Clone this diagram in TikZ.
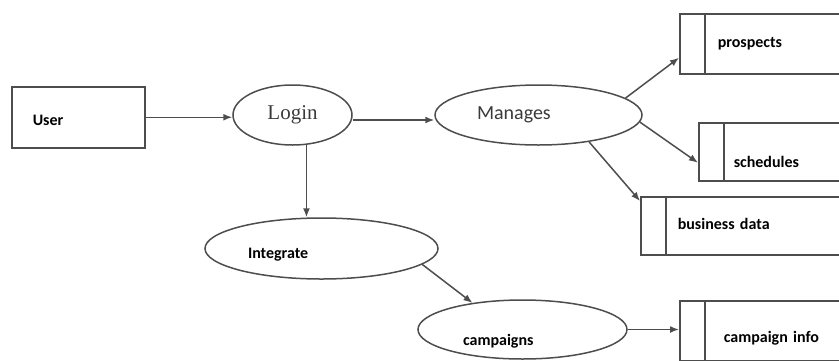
\documentclass[tikz,border=0pt]{standalone}
\usepackage{fontspec}
\setmainfont{Carlito}
\newfontfamily\serifface{Liberation Serif}
\usetikzlibrary{shapes.geometric,arrows.meta}

\definecolor{linegray}{HTML}{4D4D4D}
\definecolor{textgray}{HTML}{3A3A3A}

\tikzset{
    store/.style={draw=linegray, line width=1.5pt, rectangle, anchor=north west, align=left,
        text width=150pt, minimum height=#1, font=\fontsize{16}{18}\selectfont\bfseries,
        text height=11pt, text depth=3pt},
    process/.style={draw=linegray, line width=1.5pt, ellipse, inner sep=0pt},
    flow/.style={draw=linegray, line width=1.5pt, -{Latex[length=9pt,width=7pt]}},
    bold16/.style={font=\fontsize{16}{18}\selectfont\bfseries, align=left}
}

\begin{document}
\begin{tikzpicture}[x=1pt, y=-1pt]
        \useasboundingbox (0,0) rectangle (839,360);
        \clip (0,0) rectangle (839,360);

        \node[store=61pt, text width=91pt, inner xsep=21pt, text height=19pt] (user) at (11,86) {User};

        \node[process, minimum width=119pt, minimum height=60pt, text=textgray,
            font=\serifface\fontsize{21}{24}\selectfont] (login) at (292.5,115) {Login};
        \node[process, minimum width=207pt, minimum height=60pt, text width=123pt, align=left,
            text=textgray, font=\fontsize{20}{22}\selectfont] (manages) at (538.5,115) {Manages};
        \node[process, bold16, minimum width=233pt, minimum height=61pt, text width=147pt,
            text height=23pt, text depth=3pt] (integrate) at (321.5,248.5) {Integrate};
        \node[process, bold16, minimum width=209pt, minimum height=59pt, text width=119pt,
            text height=35pt, text depth=3pt] (campaigns) at (522.5,329.5) {campaigns};

        \node[store=60pt, inner xsep=38pt] (prospects) at (679,13) {prospects};
        \node[store=58pt, inner xsep=35pt, text height=35pt] (schedules) at (698,122) {schedules};
        \node[store=58pt, inner xsep=37pt] (bizdata) at (640,196) {business data};
        \node[store=60pt, inner xsep=44pt, text height=27pt] (info) at (679,300) {campaign info};

        % left strip of each data store
        \foreach \s in {prospects,schedules,bizdata,info}
            \draw[draw=linegray, line width=1.5pt] ([xshift=26pt]\s.north west) -- ([xshift=26pt]\s.south west);

        \draw[flow] (user.east) -- (user.east -| login.west);
        \draw[flow] ([yshift=-5pt]login.east) -- ([yshift=-5pt]login.east -| manages.west);
        \draw[flow] (login.-65) -- (login.-65 |- integrate.north);
        \draw[flow] (manages.11) -- ([yshift=-14pt]prospects.west);
        \draw[flow] (manages.-4) -- ([yshift=-11pt]schedules.west);
        \draw[flow] (manages.-28) -- ([yshift=-5pt]bizdata.north west);
        \draw[flow] (integrate.-9) -- (campaigns.152);
        \draw[flow] (campaigns.east) -- (campaigns.east -| info.west);
    \end{tikzpicture}
\end{document}
